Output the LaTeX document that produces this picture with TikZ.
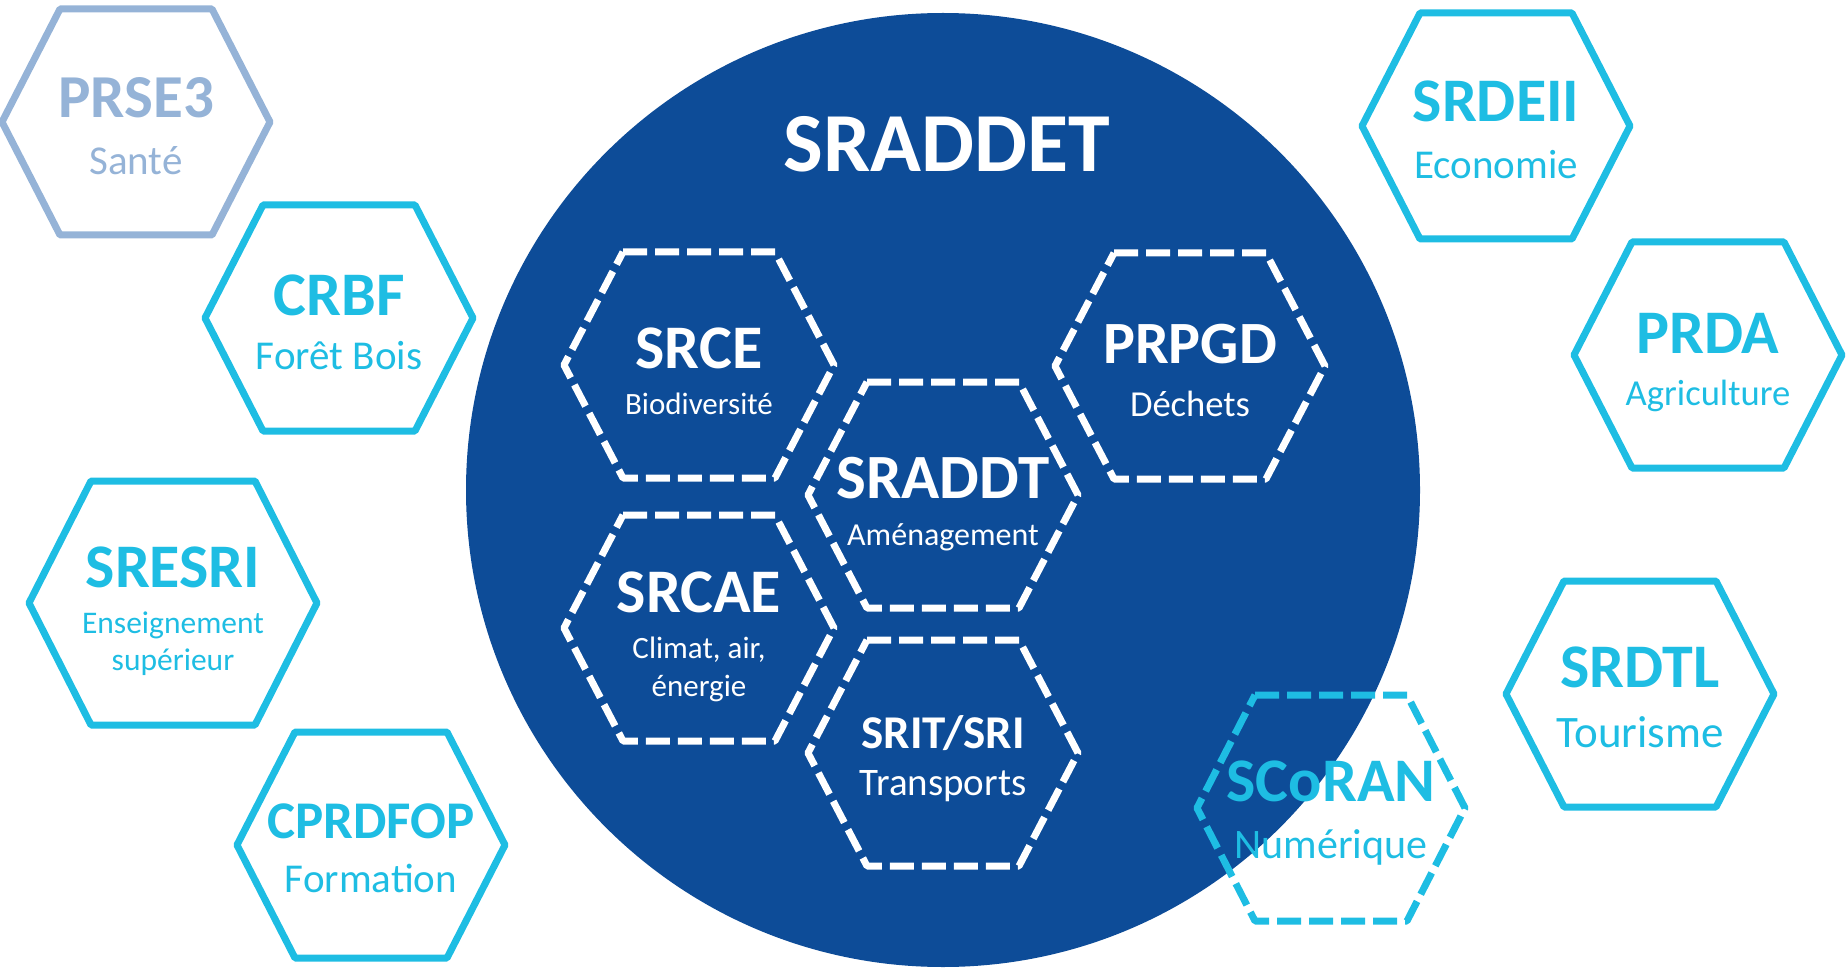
\documentclass[tikz,border=0pt]{standalone}
\usepackage{fontspec}
\setmainfont{Carlito}
\usetikzlibrary{calc}
\definecolor{sradblue}{RGB}{13,76,152}
\definecolor{planblue}{RGB}{30,189,227}
\definecolor{santeblue}{RGB}{149,179,215}
% hexagon round a centre: #2 half width, #3 half top edge, #4 half height
\newcommand{\hexshape}[4]{(#1) ++(-#3,-#4) -- ++(2*#3,0) -- ++(#2-#3,#4) -- ++(#3-#2,#4) -- ++(-2*#3,0) -- ++(#3-#2,-#4) -- cycle}
\tikzset{
  hexline/.style={line width=3.5pt, line join=round},
  dashhex/.style={hexline, dash pattern=on 12pt off 4pt},
  plantitle/.style={anchor=base, inner sep=0pt, font=\bfseries\fontsize{#1}{#1}\selectfont},
  plansub/.style={anchor=base, inner sep=0pt, font=\fontsize{#1}{#1}\selectfont}
}
\begin{document}
\begin{tikzpicture}[x=0.5pt, y=-0.5pt]
  \useasboundingbox (0,0) rectangle (1848,968);
  % big circle
  \fill[sradblue] (943,490) circle[radius=238.5pt];
  \node[plantitle=42, text=white] (sraddet) at (947,172) {SRADDET};

  % schemes inside the SRADDET
  \coordinate (srce) at (699,365);
  \coordinate (prpgd) at (1190,366);
  \coordinate (sraddt) at (943,495);
  \coordinate (srcae) at (699,628);
  \coordinate (srit) at (943,753);
  \begin{scope}[white]
    \draw[dashhex] \hexshape{srce}{135}{76}{113};
    \draw[dashhex] \hexshape{prpgd}{135}{76}{113};
    \draw[dashhex] \hexshape{sraddt}{135}{76}{113};
    \draw[dashhex] \hexshape{srcae}{135}{76}{113};
    \draw[dashhex] \hexshape{srit}{135}{76}{113};
    \node[plantitle=31] (srce-t) at (699,368) {SRCE};
    \node[plansub=15.5] (srce-s) at (699,415) {Biodiversité};
    \node[plantitle=30] (prpgd-t) at (1190,364) {PRPGD};
    \node[plansub=18.3] (prpgd-s) at (1190,416) {Déchets};
    \node[plantitle=31.5] (sraddt-t) at (943,498) {SRADDT};
    \node[plansub=16] (sraddt-s) at (943,545) {Aménagement};
    \node[plantitle=31] (srcae-t) at (699,612) {SRCAE};
    \node[plansub=15.5] (srcae-s1) at (699,658) {Climat, air,};
    \node[plansub=15.5] (srcae-s2) at (699,696) {énergie};
    \node[plantitle=23.5] (srit-t) at (943,748) {SRIT/SRI};
    \node[plansub=19.5] (srit-s) at (943,795) {Transports};
  \end{scope}

  % schemes round the SRADDET
  \coordinate (prse) at (136,122);
  \draw[hexline, santeblue] \hexshape{prse}{134}{76}{113};
  \node[plantitle=30.5, text=santeblue] (prse-t) at (136,118) {PRSE3};
  \node[plansub=20.5, text=santeblue] (prse-s) at (136,175) {Santé};

  \begin{scope}[planblue]
    \coordinate (crbf) at (339,318);
    \coordinate (sresri) at (173,603);
    \coordinate (cprdfop) at (371,845);
    \coordinate (srdeii) at (1496,126);
    \coordinate (prda) at (1708,355);
    \coordinate (srdtl) at (1640,694);
    \coordinate (scoran) at (1331,808);
    \draw[hexline] \hexshape{crbf}{134}{76}{113};
    \draw[hexline] \hexshape{sresri}{144}{82}{122};
    \draw[hexline] \hexshape{cprdfop}{134}{76}{113};
    \draw[hexline] \hexshape{srdeii}{134}{76}{113};
    \draw[hexline] \hexshape{prda}{134}{76}{113};
    \draw[hexline] \hexshape{srdtl}{134}{76}{113};
    \draw[dashhex] \hexshape{scoran}{134}{76}{113};
    \node[plantitle=31] (crbf-t) at (339,315) {CRBF};
    \node[plansub=20.5] (crbf-s) at (339,370) {Forêt Bois};
    \node[plantitle=31] (sresri-t) at (173,587) {SRESRI};
    \node[plansub=15.75] (sresri-s1) at (173,633) {Enseignement};
    \node[plansub=15.75] (sresri-s2) at (173,670) {supérieur};
    \node[plantitle=26.5] (cprdfop-t) at (371,838) {CPRDFOP};
    \node[plansub=20.5] (cprdfop-s) at (371,892) {Formation};
    \node[plantitle=31] (srdeii-t) at (1496,122) {SRDEII};
    \node[plansub=20.5] (srdeii-s) at (1496,179) {Economie};
    \node[plantitle=31] (prda-t) at (1708,353) {PRDA};
    \node[plansub=18.3] (prda-s) at (1708,406) {Agriculture};
    \node[plantitle=31] (srdtl-t) at (1640,687) {SRDTL};
    \node[plansub=22.5] (srdtl-s) at (1640,747) {Tourisme};
    \node[plantitle=31] (scoran-t) at (1331,801) {SCoRAN};
    \node[plansub=21] (scoran-s) at (1331,858) {Numérique};
  \end{scope}
\end{tikzpicture}
\end{document}
